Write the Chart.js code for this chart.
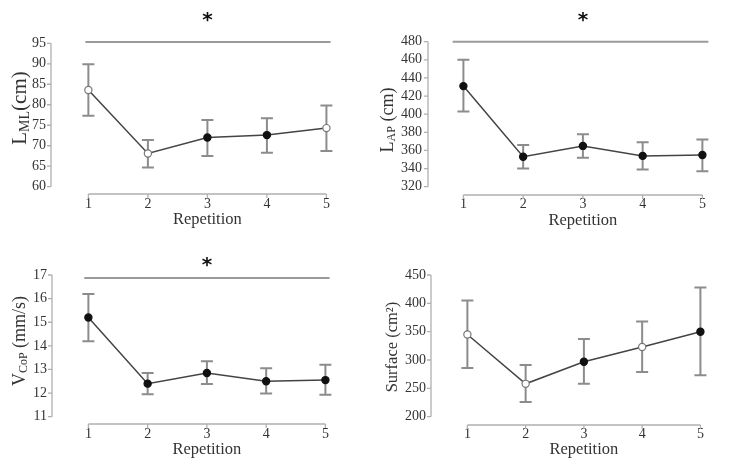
<!DOCTYPE html>
<html lang="en">
<head>
<meta charset="UTF-8">
<title>Repetition</title>
<script src="https://cdn.jsdelivr.net/npm/chart.js@4"></script>
<style>
    html, body { margin: 0; padding: 0; background: #fff; overflow: hidden; width: 731px; height: 468px; }
    canvas { position: absolute; }
</style>
</head>
<body>

<canvas id="lmlChart"></canvas>
<canvas id="lapChart"></canvas>
<canvas id="vcopChart"></canvas>
<canvas id="surfChart"></canvas>

<script>
// x categories
const repetitions = [1, 2, 3, 4, 5];

// L_ML (cm)
const lmlMean  = [83.6, 68.1, 72.0, 72.6, 74.3];
const lmlUpper = [89.9, 71.4, 76.3, 76.7, 79.8];
const lmlLower = [77.3, 64.7, 67.5, 68.3, 68.7];
const lmlOpen  = [true, true, false, false, true];
const lmlTicks = [60, 65, 70, 75, 80, 85, 90, 95];
const lmlSig   = [0.95, 5.07, 95.3]; // from rep, to rep, level

// L_AP (cm)
const lapMean  = [431, 353, 365, 354, 355];
const lapUpper = [460, 366, 378, 369, 372];
const lapLower = [403, 340, 352, 339, 337];
const lapOpen  = [false, false, false, false, false];
const lapTicks = [320, 340, 360, 380, 400, 420, 440, 460, 480];
const lapSig   = [0.82, 5.1, 480];

// V_CoP (mm/s)
const vcopMean  = [15.2, 12.4, 12.85, 12.5, 12.55];
const vcopUpper = [16.2, 12.85, 13.35, 13.05, 13.2];
const vcopLower = [14.2, 11.95, 12.38, 11.98, 11.93];
const vcopOpen  = [false, false, false, false, false];
const vcopTicks = [11, 12, 13, 14, 15, 16, 17];
const vcopSig   = [0.93, 5.07, 16.87];

// Surface (cm2)
const surfMean  = [345, 258, 297, 323, 350];
const surfUpper = [405, 291, 337, 368, 428];
const surfLower = [286, 226, 258, 279, 273];
const surfOpen  = [true, true, false, true, false];
const surfTicks = [200, 250, 300, 350, 400, 450];

const textColor = '#333';
const serif = '"Liberation Serif", "Times New Roman", serif';

// extra drawing info per canvas (kept out of chart options so nothing gets resolved)
const decorData = {};

// draws detached axes, error bars, significance line and the y title
const panelDecor = {
    id: 'panelDecor',
    beforeDatasetsDraw(chart) {
        const d = decorData[chart.canvas.id];
        const ctx = chart.ctx;
        const xs = chart.scales.x, ys = chart.scales.y;
        const area = chart.chartArea;
        ctx.save();

        // y axis
        ctx.strokeStyle = '#b0b0b0';
        ctx.lineWidth = 1.3;
        ctx.beginPath();
        const ax = area.left;
        ctx.moveTo(ax, ys.getPixelForValue(d.ticks[0]));
        ctx.lineTo(ax, ys.getPixelForValue(d.ticks[d.ticks.length - 1]));
        d.ticks.forEach(v => {
            const py = ys.getPixelForValue(v);
            ctx.moveTo(ax - 4, py);
            ctx.lineTo(ax, py);
        });
        // x axis
        const ay = area.bottom + d.axisGap;
        ctx.moveTo(xs.getPixelForValue(repetitions[0]), ay);
        ctx.lineTo(xs.getPixelForValue(repetitions[repetitions.length - 1]), ay);
        repetitions.forEach(r => {
            const px = xs.getPixelForValue(r);
            ctx.moveTo(px, ay);
            ctx.lineTo(px, ay + 4);
        });
        ctx.stroke();

        // error bars
        ctx.strokeStyle = '#8c8c8c';
        ctx.lineWidth = 2;
        ctx.beginPath();
        repetitions.forEach((r, i) => {
            const px = xs.getPixelForValue(r);
            const top = ys.getPixelForValue(d.upper[i]);
            const bot = ys.getPixelForValue(d.lower[i]);
            ctx.moveTo(px, top); ctx.lineTo(px, bot);
            ctx.moveTo(px - 6, top); ctx.lineTo(px + 6, top);
            ctx.moveTo(px - 6, bot); ctx.lineTo(px + 6, bot);
        });
        ctx.stroke();

        // significance bar + star
        if (d.sig) {
            const sy = ys.getPixelForValue(d.sig[2]);
            ctx.strokeStyle = '#9a9a9a';
            ctx.lineWidth = 2;
            ctx.beginPath();
            ctx.moveTo(xs.getPixelForValue(d.sig[0]), sy);
            ctx.lineTo(xs.getPixelForValue(d.sig[1]), sy);
            ctx.stroke();
            ctx.fillStyle = '#111';
            ctx.font = 'bold 20px "DejaVu Sans", sans-serif';
            ctx.textAlign = 'center';
            ctx.textBaseline = 'alphabetic';
            ctx.fillText('*', xs.getPixelForValue(3), d.starY);
        }

        // y title with subscript, rotated
        ctx.fillStyle = textColor;
        ctx.textBaseline = 'middle';
        ctx.textAlign = 'left';
        let total = 0;
        const widths = d.title.map(p => {
            ctx.font = p.size + 'px ' + serif;
            const w = ctx.measureText(p.text).width;
            total += w;
            return w;
        });
        ctx.translate(d.titleX, d.titleY);
        ctx.rotate(-Math.PI / 2);
        let cx = -total / 2;
        d.title.forEach((p, i) => {
            ctx.font = p.size + 'px ' + serif;
            ctx.fillText(p.text, cx, p.shift);
            cx += widths[i];
        });

        ctx.restore();
    }
};

function makePanel(g, mean, upper, lower, open, ticks, sig, title) {
    const canvas = document.getElementById(g.id);
    const unit = (g.cat5 - g.cat1) / 4;
    const side = (g.cat1 - g.axisLeft) / unit;
    const right = g.cat5 + (g.cat1 - g.axisLeft);
    const width = Math.round(right - g.left);
    canvas.width = width;
    canvas.height = g.height;
    canvas.style.left = g.left + 'px';
    canvas.style.top = g.top + 'px';
    canvas.style.width = width + 'px';
    canvas.style.height = g.height + 'px';

    decorData[g.id] = {
        ticks: ticks, upper: upper, lower: lower, sig: sig, title: title,
        axisGap: g.axisY - g.plotBottom,
        starY: g.starY - g.top,
        titleX: g.titleX - g.left,
        titleY: g.titleY - g.top
    };

    return new Chart(canvas, {
        type: 'line',
        data: {
            datasets: [{
                data: repetitions.map((r, i) => ({ x: r, y: mean[i] })),
                borderColor: '#444',
                borderWidth: 1.5,
                pointRadius: 3.6,
                pointBorderWidth: 1.2,
                pointBackgroundColor: open.map(o => o ? '#fff' : '#111'),
                pointBorderColor: open.map(o => o ? '#777' : '#111'),
                clip: false,
                tension: 0
            }]
        },
        options: {
            responsive: false,
            animation: false,
            layout: { padding: { left: 0, right: 0, top: g.plotTop - g.top, bottom: 0 } },
            scales: {
                x: {
                    type: 'linear',
                    min: 1 - side,
                    max: 5 + side,
                    afterBuildTicks: s => { s.ticks = repetitions.map(v => ({ value: v })); },
                    afterFit: s => { s.height = g.top + g.height - g.plotBottom; },
                    grid: { display: false, drawTicks: false },
                    border: { display: false },
                    ticks: { padding: g.xTickPad, autoSkip: false, maxRotation: 0, color: textColor, font: { family: serif, size: 14 } },
                    title: {
                        display: true,
                        text: 'Repetition',
                        color: textColor,
                        font: { family: serif, size: 16.5 },
                        padding: { top: 0, bottom: g.top + g.height - g.xTitleY - 9.9 }
                    }
                },
                y: {
                    min: ticks[0],
                    max: ticks[ticks.length - 1],
                    afterBuildTicks: s => { s.ticks = ticks.map(v => ({ value: v })); },
                    afterFit: s => { s.width = g.axisLeft - g.left; },
                    grid: { display: false, drawTicks: false },
                    border: { display: false },
                    ticks: { padding: g.yTickPad, autoSkip: false, color: textColor, font: { family: serif, size: 14 } }
                }
            },
            plugins: {
                legend: { display: false },
                tooltip: { enabled: false }
            }
        },
        plugins: [panelDecor]
    });
}

makePanel(
    { id: 'lmlChart', left: 0, top: 0, height: 234, axisLeft: 51, plotTop: 43.3, plotBottom: 186.7,
      cat1: 89, cat5: 331, axisY: 194, xTickPad: 9, yTickPad: 5, xTitleY: 219.5, starY: 26, titleX: 20, titleY: 108 },
    lmlMean, lmlUpper, lmlLower, lmlOpen, lmlTicks, lmlSig,
    [{ text: 'L', size: 21, shift: 0 }, { text: 'ML', size: 14, shift: 5 }, { text: '(cm)', size: 21, shift: 0 }]
);

makePanel(
    { id: 'lapChart', left: 365, top: 0, height: 234, axisLeft: 428, plotTop: 41.7, plotBottom: 186.7,
      cat1: 464, cat5: 707, axisY: 195, xTickPad: 9, yTickPad: 6, xTitleY: 221, starY: 26, titleX: 388, titleY: 120 },
    lapMean, lapUpper, lapLower, lapOpen, lapTicks, lapSig,
    [{ text: 'L', size: 18, shift: 0 }, { text: 'AP', size: 12, shift: 4 }, { text: ' (cm)', size: 18, shift: 0 }]
);

makePanel(
    { id: 'vcopChart', left: 0, top: 234, height: 234, axisLeft: 52, plotTop: 275, plotBottom: 416.7,
      cat1: 89, cat5: 330, axisY: 424, xTickPad: 9, yTickPad: 5, xTitleY: 450, starY: 271, titleX: 20, titleY: 341 },
    vcopMean, vcopUpper, vcopLower, vcopOpen, vcopTicks, vcopSig,
    [{ text: 'V', size: 18, shift: 0 }, { text: 'CoP', size: 12, shift: 4 }, { text: ' (mm/s)', size: 18, shift: 0 }]
);

makePanel(
    { id: 'surfChart', left: 365, top: 234, height: 234, axisLeft: 431, plotTop: 275, plotBottom: 416.7,
      cat1: 468, cat5: 705, axisY: 425, xTickPad: 9, yTickPad: 5, xTitleY: 450, starY: 0, titleX: 393, titleY: 347 },
    surfMean, surfUpper, surfLower, surfOpen, surfTicks, null,
    [{ text: 'Surface (cm\u00B2)', size: 16.5, shift: 0 }]
);
</script>

</body>
</html>
